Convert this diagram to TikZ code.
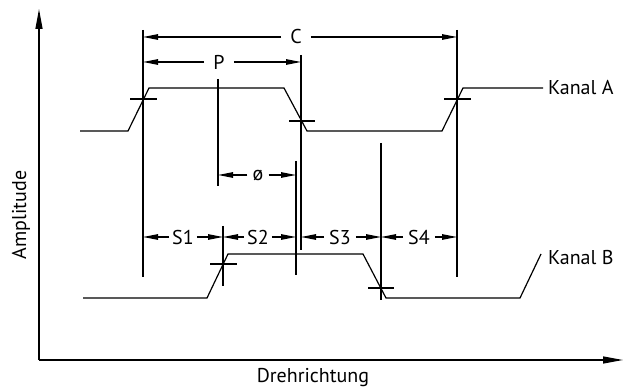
\documentclass[tikz,border=0pt]{standalone}
\usepackage{fontspec}
\setmainfont{PT Sans}
\usepackage{tikz}
\usetikzlibrary{arrows.meta}
\tikzset{
    signal/.style={line width=1.2pt, line join=miter},
    extline/.style={line width=1.1pt},
    dimline/.style={line width=1.1pt, -{Triangle[length=15pt,width=5.5pt]}},
    dimlabel/.style={inner xsep=3pt, inner ysep=0pt, font=\fontsize{20}{23}\selectfont},
    axis/.style={line width=1.3pt, -{Triangle[length=20pt,width=7pt]}},
    textlabel/.style={inner sep=0pt, font=\fontsize{20}{23}\selectfont}
}

\begin{document}
\begin{tikzpicture}[x=1pt, y=-1pt]
    \useasboundingbox (0,0) rectangle (624,390);

    % axes
    \coordinate (o) at (39,360);
    \coordinate (ytop) at (39,9);
    \coordinate (xend) at (623,360);
    \draw[axis] (o) -- (ytop);
    \draw[axis] (o) -- (xend);
    \node[textlabel, rotate=90] (amp) at (21,215) {Amplitude};
    \node[textlabel] (dreh) at (313,378) {Drehrichtung};

    % Kanal A
    \draw[signal] (80,131) -- (128,131) -- (149,88) -- (284,88) -- (307,131)
        -- (442,131) -- (463,88) -- (543,88) coordinate (aend);
    \node[textlabel, anchor=west] (kA) at (548,88) {Kanal A};

    % Kanal B
    \draw[signal] (83,298) -- (207,298) -- (228,254) -- (363,254) -- (386,298)
        -- (520,298) -- (541,254) coordinate (bend);
    \node[textlabel, anchor=west] (kB) at (548,258) {Kanal B};

    % crossing ticks
    \draw[extline] (130,99) -- (157,99);
    \draw[extline] (289,121) -- (315,121);
    \draw[extline] (444,99) -- (471,99);
    \draw[extline] (210,264) -- (237,264);
    \draw[extline] (368,288) -- (394,288);

    % extension lines
    \draw[extline] (143,30) -- (143,277);
    \draw[extline] (301,55) -- (301,250);
    \draw[extline] (457,30) -- (457,277);
    \draw[extline] (218,79) -- (218,186);
    \draw[extline] (296,161) -- (296,275);
    \draw[extline] (223,226) -- (223,286);
    \draw[extline] (381,143) -- (381,300);

    % dimensions
    \node[dimlabel, inner xsep=9pt] (C) at (296,37) {C};
    \draw[dimline] (C.west) -- (143,37);
    \draw[dimline] (C.east) -- (457,37);

    \node[dimlabel, inner xsep=9pt] (P) at (219,62) {P};
    \draw[dimline] (P.west) -- (143,62);
    \draw[dimline] (P.east) -- (301,62);

    \node[dimlabel, inner xsep=5pt] (phi) at (258,175) {ø};
    \draw[dimline] (phi.west) -- (218,175);
    \draw[dimline] (phi.east) -- (296,175);

    \node[dimlabel] (s1) at (183,237) {S1};
    \draw[dimline] (s1.west) -- (143,237);
    \draw[dimline] (s1.east) -- (223,237);

    \node[dimlabel] (s2) at (258,237) {S2};
    \draw[dimline] (s2.west) -- (223,237);
    \draw[dimline] (s2.east) -- (296,237);

    \node[dimlabel, inner xsep=5pt] (s3) at (340,237) {S3};
    \draw[dimline] (s3.west) -- (301,237);
    \draw[dimline] (s3.east) -- (381,237);

    \node[dimlabel, inner xsep=5pt] (s4) at (419,237) {S4};
    \draw[dimline] (s4.west) -- (381,237);
    \draw[dimline] (s4.east) -- (457,237);
\end{tikzpicture}
\end{document}
